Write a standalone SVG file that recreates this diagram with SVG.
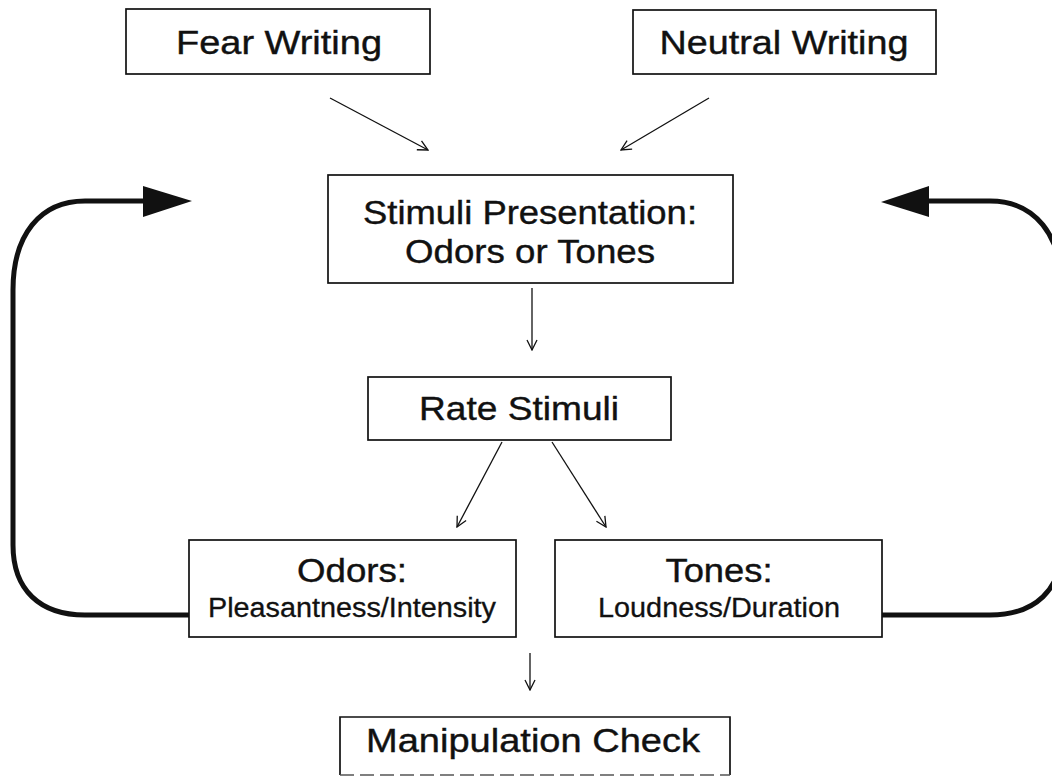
<svg xmlns="http://www.w3.org/2000/svg" width="1052" height="776" viewBox="0 0 1052 776">
  <defs>
    <style>
      .box { fill: #fff; stroke: #111; stroke-width: 1.7; }
      .lbl { font-family: "Liberation Sans", Arial, sans-serif; font-size: 34px; fill: #111; stroke: #111; stroke-width: 0.4; text-anchor: middle; }
      .sub { font-family: "Liberation Sans", Arial, sans-serif; font-size: 27px; fill: #111; stroke: #111; stroke-width: 0.3; text-anchor: middle; }
      .thin { fill: none; stroke: #111; stroke-width: 1.3; }
      .loop { fill: none; stroke: #111; stroke-width: 5; }
      .head { fill: #111; stroke: none; }
    </style>
    <marker id="vee" viewBox="0 0 12 12" refX="11" refY="6" markerWidth="12" markerHeight="12" markerUnits="userSpaceOnUse" orient="auto">
      <path d="M1 1 L11 6 L1 11" fill="none" stroke="#111" stroke-width="1.3"/>
    </marker>
  </defs>

  <!-- connectors -->
  <g id="connectors">
    <line class="thin" x1="330" y1="98" x2="428" y2="150" marker-end="url(#vee)"/>
    <line class="thin" x1="709" y1="98" x2="621" y2="150" marker-end="url(#vee)"/>
    <line class="thin" x1="532" y1="288" x2="532" y2="350" marker-end="url(#vee)"/>
    <line class="thin" x1="502" y1="442" x2="457" y2="527" marker-end="url(#vee)"/>
    <line class="thin" x1="552" y1="442" x2="606" y2="527" marker-end="url(#vee)"/>
    <line class="thin" x1="530" y1="653" x2="530" y2="690" marker-end="url(#vee)"/>

    <!-- feedback loops back to the presentation step -->
    <path class="loop" d="M189 615 H85 C40 615 13 590 13 545 V290 C13 235 40 201 85 201 H150"/>
    <polygon class="head" points="192,201 143,186 143,217"/>
    <path class="loop" d="M882 615 H990 C1035 615 1062 590 1062 545 V290 C1062 235 1035 201 990 201 H922"/>
    <polygon class="head" points="881,202 929,186 929,217"/>
  </g>

  <g id="fear-writing">
    <rect class="box" x="126" y="9" width="304" height="65"/>
    <text class="lbl" x="279" y="54" textLength="206" lengthAdjust="spacingAndGlyphs">Fear Writing</text>
  </g>

  <g id="neutral-writing">
    <rect class="box" x="633" y="10" width="303" height="64"/>
    <text class="lbl" x="784" y="54" textLength="249" lengthAdjust="spacingAndGlyphs">Neutral Writing</text>
  </g>

  <g id="stimuli-presentation">
    <rect class="box" x="328" y="175" width="405" height="108"/>
    <text class="lbl" x="530" y="224" textLength="334" lengthAdjust="spacingAndGlyphs">Stimuli Presentation:</text>
    <text class="lbl" x="530" y="263" textLength="250" lengthAdjust="spacingAndGlyphs">Odors or Tones</text>
  </g>

  <g id="rate-stimuli">
    <rect class="box" x="368" y="377" width="303" height="63"/>
    <text class="lbl" x="519" y="420" textLength="200" lengthAdjust="spacingAndGlyphs">Rate Stimuli</text>
  </g>

  <g id="odors">
    <rect class="box" x="189" y="540" width="327" height="97"/>
    <text class="lbl" x="352" y="582" textLength="110" lengthAdjust="spacingAndGlyphs">Odors:</text>
    <text class="sub" x="352" y="617" textLength="288" lengthAdjust="spacingAndGlyphs">Pleasantness/Intensity</text>
  </g>

  <g id="tones">
    <rect class="box" x="555" y="540" width="327" height="97"/>
    <text class="lbl" x="719" y="582" textLength="107" lengthAdjust="spacingAndGlyphs">Tones:</text>
    <text class="sub" x="719" y="617" textLength="242" lengthAdjust="spacingAndGlyphs">Loudness/Duration</text>
  </g>

  <g id="manipulation-check">
    <path class="box" d="M340 775 V717 H730 V775" fill="none"/>
    <line x1="340" y1="775" x2="730" y2="775" stroke="#555" stroke-width="1.6" stroke-dasharray="14 6"/>
    <text class="lbl" x="533" y="752" textLength="334" lengthAdjust="spacingAndGlyphs">Manipulation Check</text>
  </g>
</svg>
